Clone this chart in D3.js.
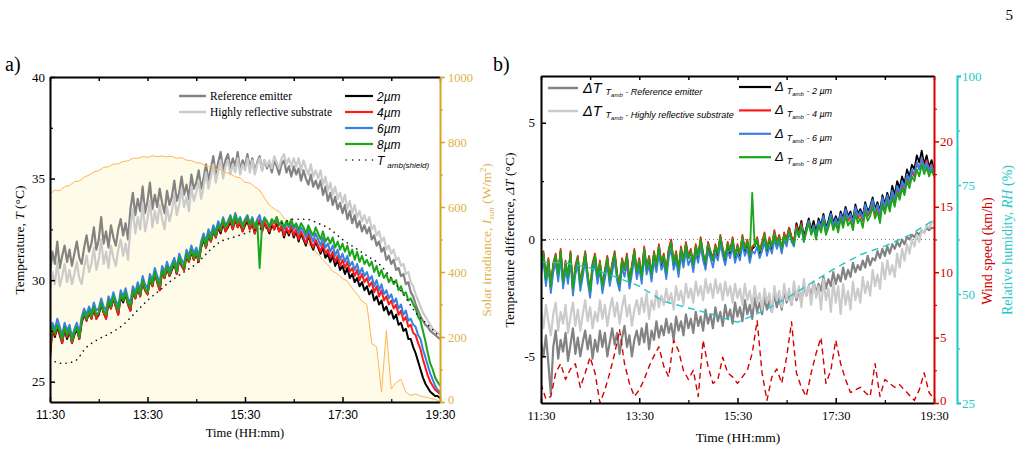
<!DOCTYPE html>
<html>
<head>
<meta charset="utf-8">
<script src="https://cdn.jsdelivr.net/npm/d3@7"></script>
<style>
  body { margin: 0; background: #fff; }
  svg { display: block; }
</style>
</head>
<body>
<svg id="chart" width="1022" height="472"></svg>
<script>
// hours as decimals, first reading 11:30
const tStart = 11.5
const fineStep = 0.05 // 3 min, temperature loggers
const tStep = 0.1     // 6 min, pyranometer + anemometer
const timeTicks = ['11:30', '13:30', '15:30', '17:30', '19:30']
const majorHours = [11.5, 13.5, 15.5, 17.5, 19.5]
const minorHours = [12.5, 14.5, 16.5, 18.5]

// panel a) temperatures (degC), every 3 min
const refEmitter = [
  30.3, 31.4, 30.8, 31.9, 30.6, 31.2, 31.7, 30.9, 31.5, 30.7,
  31.3, 31.9, 31.1, 30.8, 31.6, 32.2, 31.4, 31.8, 32.6, 31.5,
  32.0, 33.1, 31.8, 32.4, 31.6, 32.7, 32.1, 31.7, 32.5, 33.0,
  32.2, 32.8, 32.0, 33.5, 34.3, 33.2, 34.0, 33.4, 34.6, 33.3,
  33.9, 34.8, 33.5, 34.2, 33.6, 34.5, 33.8, 33.3, 34.4, 33.7,
  34.1, 34.9, 33.9, 34.3, 35.1, 34.2, 34.7, 34.0, 35.2, 34.5,
  34.8, 35.4, 34.5, 35.0, 35.7, 34.9, 35.5, 36.1, 35.2, 35.8,
  36.3, 35.4, 35.9, 36.2, 35.5, 36.0, 35.6, 36.3, 35.4, 35.9,
  35.6, 36.2, 35.5, 36.0, 35.3, 35.8, 36.1, 35.4, 35.9, 35.5,
  35.8, 35.3, 35.9, 35.6, 35.2, 35.7, 35.9, 35.3, 35.6, 35.1,
  35.6, 35.2, 35.5, 34.9, 35.4, 35.0, 34.7, 35.2, 34.6, 34.9,
  34.5, 34.9, 34.2, 34.6, 33.9, 34.3, 33.7, 34.1, 33.5, 33.8,
  33.3, 33.7, 33.0, 33.4, 32.8, 33.2, 32.6, 32.9, 32.4, 32.7,
  32.3, 32.6, 32.0, 32.2, 31.7, 31.9, 31.4, 31.6, 31.0, 31.2,
  30.8, 31.0, 30.5, 30.6, 30.2, 30.3, 29.8, 29.9, 29.4, 29.2,
  28.8, 28.5, 28.2, 28.0, 27.8, 27.7, 27.5, 27.4, 27.3, 27.2,
  27.1]
const reflSubstrate = [
  29.5, 30.4, 29.8, 30.9, 29.7, 30.2, 30.8, 29.9, 30.5, 29.8,
  30.3, 30.9, 30.1, 29.8, 30.6, 31.2, 30.4, 30.8, 31.6, 30.5,
  31.0, 32.0, 30.8, 31.4, 30.6, 31.7, 31.1, 30.7, 31.5, 32.0,
  31.2, 31.8, 31.0, 32.6, 33.5, 32.3, 33.1, 32.5, 33.8, 32.4,
  33.0, 33.9, 32.6, 33.4, 32.8, 33.7, 33.0, 32.5, 33.6, 32.9,
  33.4, 34.2, 33.2, 33.7, 34.5, 33.6, 34.1, 33.4, 34.6, 33.9,
  34.3, 34.9, 34.0, 34.6, 35.3, 34.5, 35.1, 35.7, 34.8, 35.4,
  35.9, 35.0, 35.6, 35.9, 35.2, 35.7, 35.3, 36.0, 35.2, 35.7,
  35.4, 36.0, 35.3, 35.9, 35.2, 35.7, 36.0, 35.4, 35.9, 35.6,
  35.9, 35.5, 36.1, 35.8, 35.5, 36.0, 36.2, 35.7, 36.0, 35.6,
  36.0, 35.6, 36.0, 35.4, 35.9, 35.5, 35.2, 35.7, 35.1, 35.4,
  35.0, 35.4, 34.7, 35.1, 34.4, 34.8, 34.2, 34.6, 34.0, 34.3,
  33.8, 34.2, 33.5, 33.9, 33.3, 33.7, 33.1, 33.4, 32.9, 33.2,
  32.8, 33.1, 32.5, 32.7, 32.2, 32.4, 31.9, 32.1, 31.5, 31.7,
  31.3, 31.5, 31.0, 31.1, 30.7, 30.8, 30.3, 30.4, 29.9, 29.7,
  29.3, 29.0, 28.7, 28.4, 28.2, 28.0, 27.8, 27.6, 27.5, 27.4,
  27.3]
const um2 = [
  26.2, 27.6, 27.2, 27.7, 27.3, 26.9, 27.6, 27.1, 27.5, 26.9,
  27.3, 27.6, 27.1, 27.9, 28.3, 28.0, 28.4, 28.1, 28.6, 28.1,
  28.3, 28.8, 28.4, 28.1, 28.9, 28.6, 29.1, 28.7, 28.3, 29.2,
  28.9, 29.3, 28.8, 28.5, 29.4, 29.1, 29.6, 29.2, 29.9, 29.5,
  29.3, 30.0, 29.7, 30.3, 29.9, 29.5, 30.4, 30.1, 30.6, 30.2,
  30.5, 30.8, 30.3, 31.0, 30.7, 30.5, 31.2, 30.9, 31.4, 31.0,
  31.3, 30.9, 31.6, 32.0, 31.6, 32.2, 31.9, 32.4, 32.1, 32.6,
  32.3, 32.8, 32.4, 32.6, 32.9, 32.5, 33.0, 32.6, 32.8, 32.4,
  32.7, 32.9, 32.5, 32.8, 32.3, 32.7, 32.9, 32.4, 32.8, 32.6,
  32.3, 32.7, 32.5, 32.8, 32.4, 32.6, 32.1, 32.5, 32.2, 32.6,
  32.1, 32.4, 31.9, 32.3, 32.0, 31.7, 32.2, 31.8, 31.5, 31.9,
  31.6, 31.3, 31.6, 31.1, 31.3, 30.9, 31.2, 30.7, 31.0, 30.5,
  30.7, 30.3, 30.6, 30.1, 30.3, 29.9, 30.1, 29.7, 29.9, 29.5,
  29.7, 29.3, 29.5, 29.0, 29.2, 28.8, 29.0, 28.5, 28.7, 28.3,
  28.5, 28.1, 28.3, 27.8, 27.9, 27.5, 27.6, 27.1, 27.1, 26.7,
  26.4, 26.0, 25.6, 25.2, 24.9, 24.7, 24.5, 24.4, 24.3, 24.3,
  24.2]
const um4 = [
  26.4, 27.7, 27.3, 27.8, 27.4, 26.9, 27.7, 27.2, 27.6, 26.9,
  27.4, 27.7, 27.1, 28.0, 28.4, 28.0, 28.5, 28.1, 28.7, 28.1,
  28.4, 28.9, 28.4, 28.1, 29.0, 28.6, 29.2, 28.7, 28.3, 29.3,
  29.0, 29.4, 28.8, 28.5, 29.5, 29.1, 29.7, 29.2, 30.0, 29.5,
  29.3, 30.1, 29.7, 30.4, 29.9, 29.5, 30.5, 30.1, 30.7, 30.2,
  30.6, 30.9, 30.3, 31.1, 30.7, 30.5, 31.3, 30.9, 31.5, 31.0,
  31.4, 30.9, 31.7, 32.1, 31.6, 32.3, 31.9, 32.5, 32.1, 32.7,
  32.4, 32.9, 32.4, 32.7, 33.0, 32.5, 33.1, 32.6, 32.9, 32.4,
  32.8, 33.0, 32.5, 32.9, 32.3, 32.8, 33.0, 32.4, 32.9, 32.6,
  32.4, 32.8, 32.5, 32.9, 32.4, 32.7, 32.2, 32.6, 32.3, 32.7,
  32.2, 32.5, 32.0, 32.4, 32.1, 31.8, 32.3, 31.9, 31.6, 32.0,
  31.7, 31.4, 31.8, 31.3, 31.5, 31.1, 31.4, 30.9, 31.2, 30.7,
  31.0, 30.6, 30.9, 30.4, 30.6, 30.2, 30.5, 30.0, 30.3, 29.9,
  30.1, 29.7, 29.9, 29.4, 29.7, 29.2, 29.5, 29.0, 29.2, 28.8,
  29.0, 28.6, 28.8, 28.3, 28.5, 28.0, 28.2, 27.7, 27.8, 27.4,
  27.3, 26.9, 26.6, 26.1, 25.7, 25.3, 25.0, 24.8, 24.6, 24.5,
  24.4]
const um6 = [
  27.1, 27.9, 27.6, 28.1, 27.7, 27.3, 27.9, 27.5, 27.8, 27.2,
  27.6, 27.9, 27.4, 28.2, 28.6, 28.3, 28.7, 28.4, 28.9, 28.5,
  28.6, 29.1, 28.7, 28.5, 29.2, 28.9, 29.4, 29.0, 28.7, 29.5,
  29.2, 29.6, 29.1, 28.9, 29.7, 29.4, 29.9, 29.5, 30.2, 29.8,
  29.6, 30.3, 30.0, 30.6, 30.2, 29.9, 30.7, 30.4, 30.9, 30.5,
  30.8, 31.1, 30.6, 31.3, 31.0, 30.8, 31.5, 31.2, 31.7, 31.3,
  31.6, 31.2, 31.9, 32.3, 31.9, 32.5, 32.2, 32.7, 32.4, 32.9,
  32.6, 33.1, 32.7, 32.9, 33.2, 32.8, 33.3, 32.9, 33.1, 32.7,
  33.0, 33.2, 32.8, 33.1, 32.6, 33.0, 33.2, 32.7, 33.1, 32.9,
  32.6, 33.0, 32.8, 33.1, 32.7, 32.9, 32.5, 32.8, 32.6, 32.9,
  32.5, 32.7, 32.3, 32.6, 32.4, 32.1, 32.5, 32.2, 31.9, 32.3,
  32.0, 31.7, 32.1, 31.6, 31.8, 31.4, 31.7, 31.2, 31.5, 31.0,
  31.3, 30.9, 31.2, 30.7, 30.9, 30.5, 30.8, 30.3, 30.6, 30.2,
  30.4, 30.0, 30.2, 29.7, 30.0, 29.5, 29.8, 29.3, 29.5, 29.1,
  29.3, 28.9, 29.1, 28.6, 28.8, 28.3, 28.5, 28.0, 28.1, 27.8,
  27.7, 27.3, 27.1, 26.6, 26.2, 25.8, 25.4, 25.1, 24.8, 24.6,
  24.5]
const um8 = [
  26.9, 27.7, 27.4, 27.8, 27.5, 27.1, 27.7, 27.3, 27.6, 27.0,
  27.4, 27.7, 27.2, 28.0, 28.4, 28.1, 28.5, 28.2, 28.7, 28.3,
  28.4, 28.9, 28.5, 28.3, 29.0, 28.7, 29.2, 28.8, 28.5, 29.3,
  29.0, 29.4, 28.9, 28.7, 29.5, 29.2, 29.7, 29.3, 30.0, 29.6,
  29.4, 30.1, 29.8, 30.4, 30.0, 29.7, 30.5, 30.2, 30.7, 30.3,
  30.6, 30.9, 30.4, 31.1, 30.8, 30.6, 31.3, 31.0, 31.5, 31.1,
  31.4, 31.0, 31.7, 32.1, 31.7, 32.3, 32.0, 32.5, 32.2, 32.7,
  32.5, 33.0, 32.6, 32.8, 33.1, 32.7, 33.2, 32.8, 33.0, 32.6,
  32.9, 33.1, 32.7, 33.0, 32.6, 32.9, 30.6, 32.7, 33.0, 32.9,
  32.6, 33.0, 32.8, 33.1, 32.7, 32.9, 32.6, 32.9, 32.7, 33.0,
  32.6, 32.8, 32.5, 32.8, 32.6, 32.3, 32.7, 32.4, 32.2, 32.6,
  32.3, 32.0, 32.4, 31.9, 32.1, 31.8, 32.1, 31.6, 31.9, 31.5,
  31.8, 31.4, 31.7, 31.2, 31.5, 31.0, 31.4, 30.9, 31.2, 30.8,
  31.0, 30.7, 30.9, 30.4, 30.7, 30.2, 30.5, 30.1, 30.3, 29.9,
  30.1, 29.8, 30.0, 29.5, 29.7, 29.3, 29.4, 29.0, 29.1, 28.8,
  28.6, 28.2, 28.0, 27.5, 27.0, 26.4, 25.9, 25.6, 25.2, 25.0,
  24.8]
// shielded ambient, every 15 min
const tAmbStep = 0.25
const tAmbShield = [
  26.1, 25.9, 26.0, 26.7, 27.1, 27.4, 27.8, 28.4, 29.0, 29.5,
  30.0, 30.4, 30.8, 31.4, 31.9, 32.1, 32.3, 32.5, 32.6, 32.8,
  33.0, 33.0, 32.8, 32.5, 32.0, 31.6, 31.2, 30.8, 30.1, 29.3,
  28.4, 27.8, 27.2]
// solar irradiance (W/m2), every 6 min
const solarIrr = [
  640, 652, 650, 663, 666, 678, 680, 692, 698, 708,
  712, 722, 724, 732, 733, 740, 742, 750, 750, 755,
  753, 758, 755, 757, 754, 756, 750, 752, 744, 743,
  736, 735, 726, 724, 716, 715, 706, 703, 693, 690,
  676, 674, 662, 652, 628, 606, 594, 586, 566, 554,
  528, 514, 498, 490, 468, 456, 438, 422, 402, 394,
  380, 372, 350, 332, 310, 300, 180, 170, 30, 220,
  40, 60, 70, 30, 20, 25, 18, 15, 12, 8,
  0]

// panel b) temperature differences against ambient (degC), every 3 min
const dRefEmitter = [
  -4.4, -5.0, -4.1, -5.3, -6.6, -4.6, -3.9, -5.1, -4.3, -4.8,
  -4.0, -5.2, -4.5, -3.8, -4.9, -4.2, -5.0, -4.4, -3.9, -4.7,
  -4.1, -5.1, -4.3, -4.8, -3.9, -4.6, -4.0, -5.0, -4.4, -3.8,
  -4.5, -4.0, -4.9, -4.2, -3.7, -4.6, -4.1, -5.0, -4.3, -3.9,
  -4.5, -3.8, -4.4, -3.6, -4.7, -3.9, -4.3, -3.5, -4.2, -3.7,
  -4.1, -3.4, -4.0, -3.6, -4.3, -3.3, -3.9, -3.5, -4.1, -3.2,
  -3.8, -3.4, -4.0, -3.1, -3.7, -3.3, -3.9, -3.0, -3.6, -3.2,
  -3.8, -2.9, -3.5, -3.1, -3.7, -2.8, -3.4, -3.0, -3.6, -2.7,
  -3.3, -2.9, -3.5, -2.6, -3.2, -2.8, -3.4, -2.5, -3.1, -2.7,
  -3.2, -2.5, -3.0, -2.6, -3.1, -2.3, -2.9, -2.5, -3.0, -2.2,
  -2.7, -2.3, -2.8, -2.0, -2.6, -2.2, -2.7, -1.9, -2.4, -2.0,
  -2.5, -1.8, -2.3, -1.9, -2.2, -1.6, -2.1, -1.7, -2.0, -1.4,
  -1.9, -1.5, -1.8, -1.2, -1.7, -1.3, -1.6, -1.0, -1.4, -1.1,
  -1.3, -0.9, -1.2, -0.7, -1.1, -0.8, -0.9, -0.5, -0.8, -0.4,
  -0.7, -0.3, -0.6, -0.2, -0.4, -0.1, -0.3, 0.0, -0.2, 0.1,
  0.0, 0.2, 0.1, 0.3, 0.2, 0.4, 0.3, 0.5, 0.4, 0.5,
  0.5]
const dReflSubstrate = [
  -3.0, -3.8, -2.8, -3.5, -4.1, -3.2, -2.7, -3.9, -3.1, -3.6,
  -2.8, -4.0, -3.3, -2.7, -3.7, -3.0, -3.9, -3.2, -2.6, -3.5,
  -2.9, -3.8, -3.1, -3.5, -2.6, -3.4, -2.8, -3.7, -3.0, -2.5,
  -3.3, -2.7, -3.6, -2.9, -2.4, -3.3, -2.8, -3.7, -3.0, -2.6,
  -3.2, -2.5, -3.1, -2.3, -3.4, -2.6, -3.0, -2.2, -2.9, -2.4,
  -2.8, -2.1, -2.7, -2.3, -3.0, -2.0, -2.6, -2.2, -2.8, -1.9,
  -2.5, -2.1, -2.7, -1.8, -2.4, -2.0, -2.6, -1.7, -2.3, -1.9,
  -2.5, -1.7, -2.3, -1.9, -2.6, -1.8, -2.4, -2.0, -2.7, -1.9,
  -2.5, -2.1, -2.8, -1.9, -2.6, -2.2, -2.9, -2.0, -2.7, -2.3,
  -3.0, -2.1, -2.7, -2.3, -3.1, -2.0, -2.6, -2.2, -2.9, -1.9,
  -2.6, -2.1, -2.8, -1.8, -2.5, -2.0, -2.9, -1.7, -2.4, -2.0,
  -2.8, -1.8, -2.5, -2.0, -3.0, -1.7, -2.6, -2.1, -3.1, -1.8,
  -2.7, -2.0, -3.2, -1.9, -2.8, -2.2, -3.0, -1.8, -2.6, -2.1,
  -2.7, -1.6, -2.3, -1.8, -2.4, -1.3, -2.0, -1.5, -2.1, -1.0,
  -1.7, -0.9, -1.5, -1.1, -1.6, -0.6, -1.2, -0.4, -0.9, -0.2,
  -0.6, 0.0, -0.3, 0.2, -0.1, 0.4, 0.3, 0.6, 0.5, 0.7,
  0.8]
const dUm2 = [
  -1.2, -0.6, -1.8, -0.9, -2.1, -1.1, -0.7, -1.6, -0.5, -1.9,
  -1.0, -1.7, -0.6, -2.2, -1.2, -0.8, -2.0, -1.3, -0.6, -1.6,
  -2.3, -1.1, -0.7, -1.7, -1.0, -2.1, -1.4, -0.8, -1.8, -1.1,
  -0.6, -1.6, -2.0, -0.9, -1.3, -0.7, -1.9, -1.2, -0.5, -1.5,
  -0.9, -1.7, -0.4, -1.3, -0.8, -1.6, -0.6, -1.2, -0.3, -1.1,
  -0.7, -1.5, -0.5, -0.1, -1.1, -0.6, -1.4, -0.4, -1.0, -0.2,
  -0.8, -0.5, -1.2, -0.3, -0.8, 0.0, -0.7, -1.1, -0.2, -0.6,
  -0.9, -0.3, -0.7, 0.1, -0.5, -0.9, -0.2, -0.6, 0.0, -0.8,
  -0.3, -0.7, 0.1, -0.5, -0.1, -0.8, -0.4, -0.3, 0.0, -0.6,
  -0.2, 0.2, -0.5, 0.0, -0.4, 0.3, -0.2, 0.1, -0.5, 0.2,
  0.0, 0.5, 0.1, -0.1, 0.7, 0.3, 0.8, 0.1, 0.5, 0.9,
  0.4, 0.8, 0.3, 0.9, 0.6, 1.1, 0.5, 0.8, 1.2, 0.7,
  1.0, 0.7, 1.2, 0.9, 1.4, 1.0, 1.2, 0.8, 1.5, 1.1,
  1.3, 1.0, 1.6, 1.2, 1.4, 1.8, 1.3, 1.6, 1.2, 1.9,
  1.5, 2.0, 1.6, 2.3, 1.9, 2.5, 2.2, 2.7, 2.4, 3.0,
  2.7, 3.2, 3.0, 3.6, 3.3, 3.8, 3.2, 3.6, 3.1, 3.4,
  3.0]
const dUm4 = [
  -1.1, -0.5, -1.7, -0.8, -2.0, -1.0, -0.6, -1.5, -0.4, -1.8,
  -0.9, -1.6, -0.5, -2.1, -1.1, -0.7, -1.9, -1.2, -0.5, -1.5,
  -2.2, -1.0, -0.6, -1.6, -0.9, -2.0, -1.3, -0.7, -1.7, -1.0,
  -0.5, -1.5, -1.9, -0.8, -1.2, -0.6, -1.8, -1.1, -0.4, -1.4,
  -0.8, -1.6, -0.3, -1.2, -0.7, -1.5, -0.5, -1.1, -0.2, -1.0,
  -0.6, -1.4, -0.4, 0.0, -1.0, -0.5, -1.3, -0.3, -0.9, -0.1,
  -0.7, -0.4, -1.1, -0.2, -0.7, 0.1, -0.6, -1.0, -0.1, -0.5,
  -0.8, -0.2, -0.6, 0.2, -0.4, -0.8, -0.1, -0.5, 0.1, -0.7,
  -0.2, -0.6, 0.2, -0.4, 0.0, -0.7, -0.3, -0.2, 0.1, -0.5,
  -0.1, 0.3, -0.4, 0.1, -0.3, 0.4, -0.1, 0.2, -0.4, 0.3,
  0.0, 0.5, 0.1, -0.1, 0.6, 0.2, 0.7, 0.0, 0.4, 0.8,
  0.3, 0.6, 0.1, 0.7, 0.4, 0.9, 0.3, 0.6, 1.0, 0.5,
  0.8, 0.5, 1.0, 0.7, 1.2, 0.8, 1.0, 0.6, 1.3, 0.9,
  1.1, 0.8, 1.4, 1.0, 1.2, 1.6, 1.1, 1.4, 1.0, 1.7,
  1.3, 1.8, 1.4, 2.0, 1.6, 2.2, 1.9, 2.4, 2.1, 2.7,
  2.4, 2.9, 2.7, 3.3, 3.0, 3.5, 3.1, 3.4, 3.0, 3.2,
  2.9]
const dUm6 = [
  -1.5, -0.9, -2.0, -1.2, -2.3, -1.4, -1.0, -1.8, -0.8, -2.1,
  -1.3, -1.9, -0.9, -2.4, -1.5, -1.1, -2.2, -1.6, -0.9, -1.8,
  -2.5, -1.4, -1.0, -1.9, -1.3, -2.3, -1.7, -1.1, -2.0, -1.4,
  -0.9, -1.8, -2.2, -1.2, -1.6, -1.0, -2.1, -1.5, -0.8, -1.7,
  -1.2, -1.9, -0.7, -1.5, -1.1, -1.8, -0.9, -1.4, -0.6, -1.3,
  -1.0, -1.7, -0.8, -0.4, -1.3, -0.9, -1.6, -0.7, -1.2, -0.5,
  -1.1, -0.8, -1.4, -0.6, -1.0, -0.3, -0.9, -1.3, -0.5, -0.8,
  -1.2, -0.6, -0.9, -0.2, -0.7, -1.1, -0.5, -0.8, -0.3, -1.0,
  -0.6, -0.9, -0.2, -0.7, -0.4, -1.0, -0.5, -0.6, -0.3, -0.8,
  -0.5, -0.1, -0.7, -0.3, -0.6, 0.0, -0.4, -0.1, -0.6, 0.0,
  -0.3, 0.3, -0.1, -0.3, 0.5, 0.1, 0.6, -0.1, 0.4, 0.8,
  0.3, 0.6, 0.2, 0.8, 0.5, 1.0, 0.4, 0.7, 1.1, 0.6,
  0.9, 0.6, 1.1, 0.8, 1.3, 0.9, 1.1, 0.7, 1.4, 1.0,
  1.2, 0.9, 1.5, 1.1, 1.3, 1.7, 1.2, 1.5, 1.1, 1.8,
  1.4, 1.9, 1.5, 2.1, 1.7, 2.3, 2.0, 2.5, 2.2, 2.8,
  2.5, 3.0, 2.8, 3.3, 3.0, 3.5, 3.0, 3.3, 2.9, 3.2,
  2.8]
const dUm8 = [
  -1.2, -0.6, -1.7, -0.9, -2.0, -1.1, -0.7, -1.5, -0.5, -1.8,
  -1.0, -1.6, -0.6, -2.1, -1.2, -0.8, -1.9, -1.3, -0.6, -1.5,
  -2.2, -1.1, -0.7, -1.6, -1.0, -2.0, -1.4, -0.8, -1.7, -1.1,
  -0.6, -1.5, -1.9, -0.9, -1.3, -0.7, -1.8, -1.2, -0.5, -1.4,
  -0.9, -1.6, -0.4, -1.2, -0.8, -1.5, -0.6, -1.1, -0.3, -1.0,
  -0.7, -1.4, -0.5, -0.1, -1.0, -0.6, -1.3, -0.4, -0.9, -0.2,
  -0.8, -0.5, -1.1, -0.3, -0.7, 0.0, -0.6, -1.0, -0.2, -0.5,
  -0.9, -0.3, -0.6, 0.1, -0.4, -0.8, -0.2, -0.5, 0.0, -0.7,
  -0.3, -0.6, 0.1, -0.4, -0.1, -0.7, 2.0, -0.3, 0.0, -0.5,
  -0.2, 0.2, -0.4, 0.0, -0.3, 0.3, -0.2, 0.1, -0.4, 0.2,
  -0.1, 0.4, 0.0, -0.2, 0.5, 0.1, 0.6, -0.1, 0.3, 0.7,
  0.2, 0.5, 0.0, 0.6, 0.3, 0.8, 0.2, 0.5, 0.9, 0.4,
  0.7, 0.3, 0.9, 0.5, 1.0, 0.6, 0.8, 0.4, 1.1, 0.7,
  0.9, 0.5, 1.2, 0.8, 1.0, 1.4, 0.9, 1.2, 0.7, 1.5,
  1.1, 1.6, 1.2, 1.8, 1.4, 2.0, 1.7, 2.2, 1.9, 2.5,
  2.2, 2.7, 2.5, 3.0, 2.7, 3.2, 2.8, 3.1, 2.7, 3.0,
  2.7]
// wind speed (km/h), every 6 min
const windSpeed = [
  1.5, 0.3, 0.5, 2.3, 3.0, 1.8, 2.6, 3.0, 1.2, 2.3,
  3.5, 2.3, 0.0, 1.0, 2.3, 3.8, 5.6, 3.0, 1.5, 0.5,
  1.0, 1.8, 2.8, 3.6, 4.3, 2.8, 2.0, 4.8, 4.0, 2.5,
  1.8, 2.5, 0.5, 4.8, 2.8, 1.5, 1.8, 3.5, 2.3, 2.0,
  1.5, 2.0, 2.5, 3.8, 6.3, 2.3, 0.2, 2.0, 2.6, 1.5,
  3.5, 6.2, 2.3, 1.2, 0.5, 2.3, 3.8, 5.0, 1.5, 2.5,
  4.8, 3.0, 1.8, 0.8, 1.0, 1.2, 0.8, 0.5, 3.0, 0.5,
  1.8, 1.5, 1.2, 1.4, 1.0, 0.6, 0.2, 1.0, 2.3, 0.8,
  0.3]
// relative humidity (%), every 30 min
const rhStep = 0.5
const relHumidity = [57.3, 57.1, 56.0, 54.0, 51.8, 48.3, 46.8, 45.3, 43.5,
  46.0, 49.0, 52.5, 56.0, 59.0, 61.0, 63.5, 67.0]

// legend entries
const legendGray = ['Reference emitter', 'Highly reflective substrate']
const legendUmA = ['2', '4', '6', '8']
const legendUmB = ['2 µm', '4 µm', '6 µm', '8 µm']

const serif = '"Liberation Serif", "Times New Roman", serif'
const sans = '"Liberation Sans", Arial, sans-serif'
const grayDark = '#838383'
const grayLight = '#cbcbcb'
const umColors = ['#000000', '#ff1a1a', '#3a80e0', '#1aa51a']
const solarAxis = '#d6a31c'
const solarText = '#e2b04c'
const windColor = '#d40000'
const rhColor = '#1fc8c8'

const svg = d3.select('#chart')

// ---------- panel a) ----------
const A = {left: 50, right: 440, top: 77, bottom: 402}
const xA = d3.scaleLinear().domain([11.5, 19.5]).range([A.left, A.right])
const yA = d3.scaleLinear().domain([24, 40]).range([A.bottom, A.top])
const yS = d3.scaleLinear().domain([0, 1000]).range([A.bottom, A.top])

svg.append('clipPath').attr('id', 'clipA').append('rect')
  .attr('x', A.left).attr('y', A.top)
  .attr('width', A.right - A.left).attr('height', A.bottom - A.top)

const gA = svg.append('g').attr('clip-path', 'url(#clipA)')

gA.append('path').datum(solarIrr)
  .attr('fill', '#fffbe9')
  .attr('d', d3.area().x((d, i) => xA(tStart + i * tStep)).y0(A.bottom).y1((d) => yS(d)))

function drawLine(g, data, x, y, step, color, width, dash) {
  const line = d3.line().x((d, i) => x(tStart + i * step)).y((d) => y(d))
  const p = g.append('path').datum(data)
    .attr('fill', 'none')
    .attr('stroke', color)
    .attr('stroke-width', width)
    .attr('stroke-linejoin', 'round')
    .attr('d', line)
  if (dash) p.attr('stroke-dasharray', dash)
  return p
}

drawLine(gA, refEmitter, xA, yA, fineStep, grayDark, 2.2)
drawLine(gA, reflSubstrate, xA, yA, fineStep, grayLight, 2.2)
drawLine(gA, solarIrr, xA, yS, tStep, '#ffb54f', 1)
;[um2, um4, um6, um8].forEach((s, k) => drawLine(gA, s, xA, yA, fineStep, umColors[k], 2))
drawLine(gA, tAmbShield, xA, yA, tAmbStep, '#111', 1.6, '0.1,5.5')
  .attr('stroke-linecap', 'round')
  .attr('d', d3.line().curve(d3.curveMonotoneX).x((d, i) => xA(tStart + i * tAmbStep)).y((d) => yA(d)))

function styleAxis(g, color, font, size, lw) {
  g.attr('font-family', font).attr('font-size', size)
  g.select('.domain').attr('stroke', color).attr('stroke-width', lw)
  g.selectAll('.tick line').attr('stroke', color).attr('stroke-width', 1.5)
  g.selectAll('.tick text').attr('fill', color)
  return g
}
function minorTicks(axis, at, values, size, color) {
  const g = svg.append('g').attr('transform', at)
    .call(axis.tickValues(values).tickSize(size).tickFormat(''))
  g.select('.domain').remove()
  g.selectAll('.tick line').attr('stroke', color).attr('stroke-width', 1.2)
}
// lift the bottom label of a right-hand axis so it clears the time labels
function liftZero(g) {
  g.selectAll('.tick text').filter((d) => d === 0 || d === 25).attr('y', -3)
}

// axes of a)
styleAxis(svg.append('g').attr('transform', `translate(0,${A.bottom})`)
  .call(d3.axisBottom(xA).tickValues(majorHours).tickSize(-5).tickSizeOuter(0).tickPadding(8)
    .tickFormat((d, i) => timeTicks[i])), '#000', sans, 12, 2)
minorTicks(d3.axisBottom(xA), `translate(0,${A.bottom})`, minorHours, -3, '#000')
styleAxis(svg.append('g').attr('transform', `translate(0,${A.top})`)
  .call(d3.axisTop(xA).tickValues(majorHours.concat(minorHours)).tickSize(-4).tickSizeOuter(0).tickFormat('')), '#000', sans, 12, 2)
styleAxis(svg.append('g').attr('transform', `translate(${A.left},0)`)
  .call(d3.axisLeft(yA).tickValues([25, 30, 35, 40]).tickSize(-5).tickSizeOuter(0).tickPadding(5)), '#000', serif, 13, 2)
minorTicks(d3.axisLeft(yA), `translate(${A.left},0)`, [27.5, 32.5, 37.5], -3, '#000')
const solarG = styleAxis(svg.append('g').attr('transform', `translate(${A.right},0)`)
  .call(d3.axisRight(yS).tickValues(d3.range(0, 1001, 200)).tickSize(5).tickSizeOuter(0).tickPadding(3)
    .tickFormat(d3.format('d'))), solarAxis, serif, 12.5, 2)
solarG.selectAll('.tick text').attr('fill', solarText)
liftZero(solarG)
minorTicks(d3.axisRight(yS), `translate(${A.right},0)`, d3.range(100, 1000, 200), 3, solarAxis)

// legend a)
const legA = svg.append('g')
legendGray.forEach((name, k) => {
  const y = 96 + k * 16
  legA.append('line').attr('x1', 179).attr('x2', 206).attr('y1', y).attr('y2', y)
    .attr('stroke', k ? grayLight : grayDark).attr('stroke-width', 2.5)
  legA.append('text').attr('x', 210).attr('y', y + 4)
    .attr('font-family', serif).attr('font-size', 11.5).text(name)
})
legendUmA.forEach((um, k) => {
  const y = 96 + k * 16
  legA.append('line').attr('x1', 345).attr('x2', 373).attr('y1', y).attr('y2', y)
    .attr('stroke', umColors[k]).attr('stroke-width', 2.2)
  legA.append('text').attr('x', 377).attr('y', y + 4.5)
    .attr('font-family', sans).attr('font-style', 'italic').attr('font-size', 12).text(um + 'µm')
})
legA.append('line').attr('x1', 346).attr('x2', 373).attr('y1', 160).attr('y2', 160)
  .attr('stroke', '#111').attr('stroke-width', 1.6).attr('stroke-linecap', 'round').attr('stroke-dasharray', '0.1,6.5')
const tAmbLabel = legA.append('text').attr('x', 377).attr('y', 164.5)
  .attr('font-family', sans).attr('font-style', 'italic').attr('font-size', 12)
tAmbLabel.append('tspan').text('T')
tAmbLabel.append('tspan').attr('dx', 3).attr('dy', 3).attr('font-size', 8).text('amb(shield)')

// titles a)
svg.append('text').attr('x', 5).attr('y', 71).attr('font-family', serif).attr('font-size', 20).text('a)')
const ttlA = svg.append('text').attr('transform', 'translate(24,240) rotate(-90)')
  .attr('text-anchor', 'middle').attr('font-family', serif).attr('font-size', 13.5)
ttlA.append('tspan').text('Temperature, ')
ttlA.append('tspan').attr('font-style', 'italic').text('T')
ttlA.append('tspan').text(' (°C)')
const ttlS = svg.append('text').attr('transform', 'translate(491,240) rotate(-90)')
  .attr('text-anchor', 'middle').attr('font-family', serif).attr('font-size', 13.5).attr('fill', solarText)
ttlS.append('tspan').text('Solar irradiance, ')
ttlS.append('tspan').attr('font-style', 'italic').text('I')
ttlS.append('tspan').attr('font-style', 'italic').attr('font-size', 9).attr('dy', 3).text('sun')
ttlS.append('tspan').attr('dy', -3).text(' (W/m')
ttlS.append('tspan').attr('font-size', 9).attr('dy', -5).text('2')
ttlS.append('tspan').attr('dy', 5).text(')')
svg.append('text').attr('x', 245).attr('y', 437).attr('text-anchor', 'middle')
  .attr('font-family', serif).attr('font-size', 12.5).text('Time (HH:mm)')

// ---------- panel b) ----------
const B = {left: 541, right: 934, top: 76, bottom: 403}
const xB = d3.scaleLinear().domain([11.5, 19.5]).range([B.left, B.right])
const yB = d3.scaleLinear().domain([-7, 7]).range([B.bottom, B.top])
const yW = d3.scaleLinear().domain([0, 25]).range([B.bottom, B.top])
const yH = d3.scaleLinear().domain([25, 100]).range([B.bottom, B.top])
const rhX = 957

svg.append('clipPath').attr('id', 'clipB').append('rect')
  .attr('x', B.left).attr('y', B.top)
  .attr('width', B.right - B.left).attr('height', B.bottom - B.top)
const gB = svg.append('g').attr('clip-path', 'url(#clipB)')

gB.append('line').attr('x1', B.left).attr('x2', B.right).attr('y1', yB(0)).attr('y2', yB(0))
  .attr('stroke', '#777').attr('stroke-width', 1).attr('stroke-dasharray', '1,3')
drawLine(gB, dRefEmitter, xB, yB, fineStep, grayDark, 2.2)
drawLine(gB, dReflSubstrate, xB, yB, fineStep, grayLight, 2.2)
;[dUm2, dUm4, dUm6, dUm8].forEach((s, k) => drawLine(gB, s, xB, yB, fineStep, umColors[k], 1.8))
drawLine(gB, windSpeed, xB, yW, tStep, windColor, 1.4, '6,4')
drawLine(gB, relHumidity, xB, yH, rhStep, rhColor, 1.4, '7,5')

styleAxis(svg.append('g').attr('transform', `translate(0,${B.bottom})`)
  .call(d3.axisBottom(xB).tickValues(majorHours).tickSize(-5).tickSizeOuter(0).tickPadding(8)
    .tickFormat((d, i) => timeTicks[i])), '#000', serif, 12.5, 2)
minorTicks(d3.axisBottom(xB), `translate(0,${B.bottom})`, minorHours, -3, '#000')
styleAxis(svg.append('g').attr('transform', `translate(0,${B.top})`)
  .call(d3.axisTop(xB).tickValues(majorHours.concat(minorHours)).tickSize(-4).tickSizeOuter(0).tickFormat('')), '#000', serif, 12, 2)
styleAxis(svg.append('g').attr('transform', `translate(${B.left},0)`)
  .call(d3.axisLeft(yB).tickValues([-5, 0, 5]).tickSize(-5).tickSizeOuter(0).tickPadding(6)
    .tickFormat((d) => (d < 0 ? '-' : '') + Math.abs(d))), '#000', serif, 13, 2)
minorTicks(d3.axisLeft(yB), `translate(${B.left},0)`, [-2.5, 2.5], -3, '#000')
const windG = styleAxis(svg.append('g').attr('transform', `translate(${B.right},0)`)
  .call(d3.axisRight(yW).tickValues([0, 5, 10, 15, 20]).tickSize(5).tickSizeOuter(0).tickPadding(1)), windColor, serif, 13, 2)
liftZero(windG)
minorTicks(d3.axisRight(yW), `translate(${B.right},0)`, [2.5, 7.5, 12.5, 17.5, 22.5], 3, windColor)
styleAxis(svg.append('g').attr('transform', `translate(${rhX},0)`)
  .call(d3.axisRight(yH).tickValues([25, 50, 75, 100]).tickSize(4).tickSizeOuter(4).tickPadding(1)), rhColor, serif, 13, 2)
minorTicks(d3.axisRight(yH), `translate(${rhX},0)`, [37.5, 62.5, 87.5], 3, rhColor)

// legend b)
const legB = svg.append('g').attr('font-family', sans).attr('font-style', 'italic')
legendGray.forEach((name, k) => {
  const y = 88 + k * 23
  legB.append('line').attr('x1', 548).attr('x2', 578).attr('y1', y).attr('y2', y)
    .attr('stroke', k ? grayLight : grayDark).attr('stroke-width', 2.5)
  const t = legB.append('text').attr('x', 583).attr('y', y + 5)
  t.append('tspan').attr('font-size', 14.5).text('ΔT')
  t.append('tspan').attr('font-size', 9).attr('dx', 4).attr('dy', 2).text('T')
  t.append('tspan').attr('font-size', 6).attr('dy', 2).text('amb')
  t.append('tspan').attr('font-size', 9).attr('dy', -2).text(' - ' + name)
})
legendUmB.forEach((um, k) => {
  const y = 87 + k * 23.4
  legB.append('line').attr('x1', 739).attr('x2', 771).attr('y1', y).attr('y2', y)
    .attr('stroke', umColors[k]).attr('stroke-width', 2.2)
  const t = legB.append('text').attr('x', 775).attr('y', y + 4)
  t.append('tspan').attr('font-size', 13).text('Δ')
  t.append('tspan').attr('font-size', 9).attr('dx', 3).attr('dy', 3).text('T')
  t.append('tspan').attr('font-size', 6).attr('dy', 2).text('amb')
  t.append('tspan').attr('font-size', 9).attr('dy', -2).text(' - ' + um)
})

// titles b)
svg.append('text').attr('x', 493).attr('y', 71).attr('font-family', serif).attr('font-size', 20).text('b)')
const ttlB = svg.append('text').attr('transform', 'translate(514,240) rotate(-90)')
  .attr('text-anchor', 'middle').attr('font-family', serif).attr('font-size', 13.5)
ttlB.append('tspan').text('Temperature difference, ')
ttlB.append('tspan').attr('font-style', 'italic').text('ΔT')
ttlB.append('tspan').text(' (°C)')
svg.append('text').attr('transform', 'translate(992,251) rotate(-90)')
  .attr('text-anchor', 'middle').attr('font-family', serif).attr('font-size', 14).attr('fill', windColor)
  .text('Wind speed (km/h)')
const ttlH = svg.append('text').attr('transform', 'translate(1012,240) rotate(-90)')
  .attr('text-anchor', 'middle').attr('font-family', serif).attr('font-size', 14).attr('fill', rhColor)
ttlH.append('tspan').text('Relative humidity, ')
ttlH.append('tspan').attr('font-style', 'italic').text('RH')
ttlH.append('tspan').text(' (%)')
svg.append('text').attr('x', 738).attr('y', 442).attr('text-anchor', 'middle')
  .attr('font-family', serif).attr('font-size', 13.5).text('Time (HH:mm)')

// page number
svg.append('text').attr('x', 1013).attr('y', 20).attr('text-anchor', 'end')
  .attr('font-family', serif).attr('font-size', 15).text('5')
</script>
</body>
</html>
